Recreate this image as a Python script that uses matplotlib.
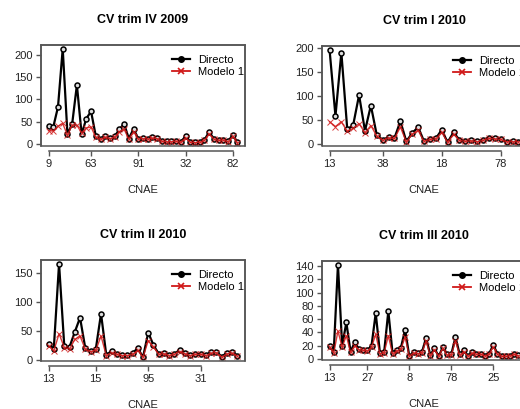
import numpy as np
import matplotlib
matplotlib.use("Agg")
import matplotlib.pyplot as plt
from matplotlib.lines import Line2D
from matplotlib.patches import Rectangle

plt.rcParams['font.family'] = ['Liberation Sans', 'DejaVu Sans']

# CV por sector CNAE, estimacion directa y modelo 1
titles = ["CV trim IV 2009", "CV trim I 2010", "CV trim II 2010", "CV trim III 2010"]

directo_iv09 = [41, 38, 83, 213, 22, 45, 132, 22, 57, 73,
                18, 12, 17, 13, 17, 33, 45, 12, 34, 12,
                13, 12, 15, 14, 7, 6, 6, 7, 5, 17,
                5, 4, 5, 9, 27, 12, 9, 10, 6, 20, 4]
modelo_iv09 = [30, 29, 40, 46, 20, 42, 42, 25, 36, 38,
               15, 11, 15, 12, 15, 28, 33, 11, 28, 11,
               12, 11, 13, 12, 6, 5, 5, 6, 4, 14,
               4, 3, 4, 8, 23, 11, 8, 9, 5, 17, 3]

directo_i10 = [197, 58, 191, 30, 39, 102, 27, 80, 18, 8,
               14, 12, 47, 5, 22, 35, 5, 10, 11, 29,
               3, 24, 8, 5, 7, 5, 8, 13, 11, 10, 4, 5, 4]
modelo_i10 = [46, 36, 46, 26, 32, 42, 23, 38, 16, 7,
              12, 11, 35, 4, 20, 28, 5, 9, 10, 24,
              3, 20, 7, 5, 6, 4, 7, 11, 10, 9, 4, 4, 4]

directo_ii10 = [27, 19, 167, 23, 22, 48, 73, 20, 15, 18,
                80, 8, 15, 10, 8, 8, 11, 20, 4, 47,
                25, 10, 11, 8, 10, 17, 11, 8, 10, 10,
                8, 13, 14, 5, 12, 13, 7]
modelo_ii10 = [24, 15, 45, 21, 18, 35, 41, 18, 14, 16,
               41, 7, 12, 9, 7, 7, 9, 16, 4, 33,
               22, 9, 10, 7, 9, 14, 10, 7, 9, 9,
               7, 11, 12, 4, 10, 11, 6]

directo_iii10 = [20, 11, 142, 20, 55, 11, 25, 15, 14, 13,
                 20, 69, 9, 10, 72, 9, 14, 17, 44, 4,
                 10, 9, 10, 32, 6, 16, 4, 18, 7, 7,
                 33, 7, 13, 4, 10, 8, 8, 5, 8, 21,
                 8, 5, 4, 5, 8, 6]
modelo_iii10 = [18, 9, 42, 18, 35, 10, 20, 14, 13, 12,
                18, 37, 8, 9, 35, 8, 12, 15, 33, 4,
                9, 8, 9, 27, 5, 14, 4, 16, 6, 6,
                27, 6, 11, 4, 9, 7, 7, 5, 7, 18,
                7, 4, 4, 5, 7, 5]

tick_pos_iv09 = [1, 10, 20, 30, 40]
tick_lab_iv09 = ["9", "63", "91", "32", "82"]
tick_pos_i10 = [1, 10, 20, 30]
tick_lab_i10 = ["13", "38", "18", "78"]
tick_pos_ii10 = [1, 10, 20, 30]
tick_lab_ii10 = ["13", "15", "95", "31"]
tick_pos_iii10 = [1, 10, 20, 30, 40]
tick_lab_iii10 = ["13", "27", "8", "78", "25"]

yticks_a = [0, 50, 100, 150, 200]
yticks_b = [0, 50, 100, 150]
yticks_c = [0, 20, 40, 60, 80, 100, 120, 140]

W, H = 520, 409
fig = plt.figure(figsize=(W / 100, H / 100), dpi=100)

RED = '#d01818'
GREY = '#555555'
TXT = '#222222'


def panel(box, title, directo, modelo, tpos, tlab, yticks):
    x0, y0, x1, y1 = box
    ax = fig.add_axes([x0 / W, 1 - y1 / H, (x1 - x0) / W, (y1 - y0) / H])
    n = len(directo)
    idx = np.arange(1, n + 1)
    ax.plot(idx, directo, color='black', lw=1.6, marker='o', ms=3.6,
            mfc='#dddddd', mec='black', mew=1.1, zorder=2)
    ax.plot(idx, modelo, color=RED, lw=1.0, marker='x', ms=4.2, mew=0.7,
            alpha=0.85, zorder=3)

    # limites como en R (4% extra a cada lado)
    pad = 0.04 * (n - 1)
    ax.set_xlim(1 - pad, n + pad)
    lo, hi = min(directo), max(directo)
    r = hi - lo
    ax.set_ylim(lo - 0.04 * r, hi + 0.04 * r)

    for s in ['left', 'top', 'right']:
        ax.spines[s].set_color(GREY)
        ax.spines[s].set_linewidth(1.1)
    ax.spines['bottom'].set_position(('outward', 3.6))
    ax.spines['bottom'].set_bounds(tpos[0], tpos[-1])
    ax.spines['bottom'].set_color(GREY)
    ax.spines['bottom'].set_linewidth(1.1)
    ax.add_patch(Rectangle((0, 0), 1, 1, transform=ax.transAxes, fill=False,
                           edgecolor=GREY, lw=1.1, clip_on=False, zorder=5))

    ax.set_xticks(tpos)
    ax.set_xticklabels(tlab)
    ax.set_yticks(yticks)
    ax.tick_params(axis='both', length=3.6, width=1.0, color=GREY,
                   labelsize=8, labelcolor=TXT, pad=2.5)

    leg = [Line2D([], [], color='black', lw=1.6, marker='o', ms=4),
           Line2D([], [], color=RED, lw=1.3, marker='x', ms=4.5, mew=1.2)]
    ax.legend(leg, ["Directo", "Modelo 1"], loc='upper left',
              bbox_to_anchor=(131 / 204, 0.90), frameon=False, fontsize=8,
              handlelength=1.65, handletextpad=0.7, labelspacing=0.15,
              borderpad=0, borderaxespad=0)

    xc = (x0 + x1) / 2
    fig.text(xc / W, 1 - (y0 - 25) / H, title, ha='center', va='center',
             fontsize=9, fontweight='bold', color='black')
    fig.text(xc / W, 1 - (y1 + 44) / H, "CNAE", ha='center', va='center',
             fontsize=8, color=TXT)
    return ax


panel((41, 45, 245, 146), titles[0], directo_iv09, modelo_iv09,
      tick_pos_iv09, tick_lab_iv09, yticks_a)
panel((322, 46, 526, 146), titles[1], directo_i10, modelo_i10,
      tick_pos_i10, tick_lab_i10, yticks_a)
panel((41, 260, 245, 361), titles[2], directo_ii10, modelo_ii10,
      tick_pos_ii10, tick_lab_ii10, yticks_b)
panel((322, 261, 526, 360), titles[3], directo_iii10, modelo_iii10,
      tick_pos_iii10, tick_lab_iii10, yticks_c)

fig.savefig("out.png", dpi=100)
